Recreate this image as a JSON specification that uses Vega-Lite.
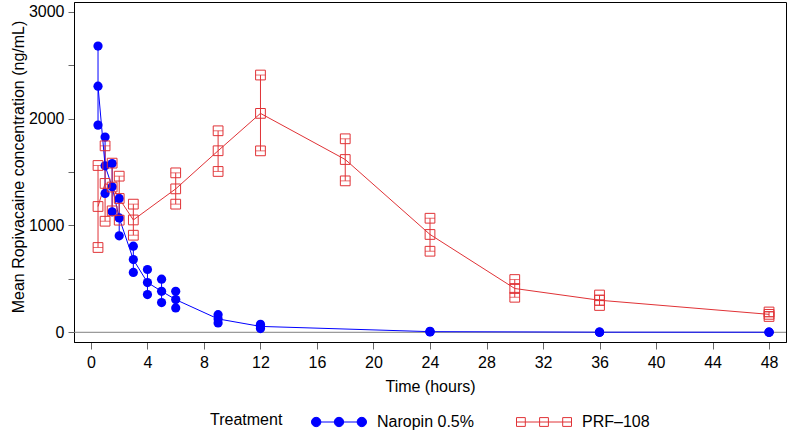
{
  "$schema": "https://vega.github.io/schema/vega-lite/v6.json",
  "width": 712,
  "height": 340,
  "autosize": {"type": "none"},
  "padding": {"left": 74, "top": 2, "right": 3, "bottom": 91},
  "background": "white",
  "config": {
    "font": "Liberation Sans",
    "view": {"stroke": "black", "strokeWidth": 1},
    "axis": {
      "grid": false,
      "labelFontSize": 16,
      "titleFontSize": 16,
      "titleFontWeight": "normal",
      "labelColor": "black",
      "titleColor": "black",
      "domainColor": "black",
      "tickColor": "#666666",
      "labelFont": "Liberation Sans",
      "titleFont": "Liberation Sans"
    },
    "axisX": {"tickSize": 7, "labelPadding": 5, "titlePadding": 8},
    "axisY": {"tickSize": 6, "labelPadding": 4, "titlePadding": 2},
    "legend": {
      "orient": "none",
      "legendX": 136,
      "legendY": 392,
      "direction": "horizontal",
      "titleOrient": "left",
      "titleAnchor": "middle",
      "titleBaseline": "top",
      "titleFontSize": 16,
      "titleFontWeight": "normal",
      "titleColor": "black",
      "titlePadding": 28,
      "labelFontSize": 16,
      "labelColor": "black",
      "labelOffset": 10,
      "columnPadding": 40,
      "symbolSize": 3025,
      "symbolStrokeWidth": 1
    }
  },
  "data": {
    "values": [
      {"t": 0.5, "group": "Naropin 0.5%", "mean": 2305, "lo": 1940, "hi": 2680},
      {"t": 1, "group": "Naropin 0.5%", "mean": 1559, "lo": 1300, "hi": 1828},
      {"t": 1.5, "group": "Naropin 0.5%", "mean": 1362, "lo": 1128, "hi": 1580},
      {"t": 2, "group": "Naropin 0.5%", "mean": 1071, "lo": 903, "hi": 1253},
      {"t": 3, "group": "Naropin 0.5%", "mean": 681, "lo": 560, "hi": 806},
      {"t": 4, "group": "Naropin 0.5%", "mean": 466, "lo": 353, "hi": 588},
      {"t": 5, "group": "Naropin 0.5%", "mean": 384, "lo": 278, "hi": 497},
      {"t": 6, "group": "Naropin 0.5%", "mean": 306, "lo": 228, "hi": 384},
      {"t": 9, "group": "Naropin 0.5%", "mean": 125, "lo": 88, "hi": 165},
      {"t": 12, "group": "Naropin 0.5%", "mean": 55, "lo": 35, "hi": 75},
      {"t": 24, "group": "Naropin 0.5%", "mean": 6, "lo": 3, "hi": 9},
      {"t": 36, "group": "Naropin 0.5%", "mean": 1, "lo": 0, "hi": 2},
      {"t": 48, "group": "Naropin 0.5%", "mean": 0.5, "lo": 0, "hi": 1},
      {"t": 0.5, "group": "PRF–108", "mean": 1178, "lo": 794, "hi": 1562},
      {"t": 1, "group": "PRF–108", "mean": 1394, "lo": 1040, "hi": 1746},
      {"t": 1.5, "group": "PRF–108", "mean": 1360, "lo": 1137, "hi": 1584},
      {"t": 2, "group": "PRF–108", "mean": 1253, "lo": 1050, "hi": 1462},
      {"t": 3, "group": "PRF–108", "mean": 1052, "lo": 909, "hi": 1200},
      {"t": 6, "group": "PRF–108", "mean": 1343, "lo": 1200, "hi": 1493},
      {"t": 9, "group": "PRF–108", "mean": 1700, "lo": 1506, "hi": 1887},
      {"t": 12, "group": "PRF–108", "mean": 2050, "lo": 1699, "hi": 2409},
      {"t": 18, "group": "PRF–108", "mean": 1618, "lo": 1418, "hi": 1812},
      {"t": 24, "group": "PRF–108", "mean": 916, "lo": 759, "hi": 1068},
      {"t": 30, "group": "PRF–108", "mean": 410, "lo": 328, "hi": 494},
      {"t": 36, "group": "PRF–108", "mean": 300, "lo": 251, "hi": 349},
      {"t": 48, "group": "PRF–108", "mean": 168, "lo": 148, "hi": 190}
    ]
  },
  "layer": [
    {
      "data": {"values": [{}]},
      "mark": {"type": "rule", "color": "#808080", "strokeWidth": 1},
      "encoding": {"y": {"datum": 0, "type": "quantitative"}}
    },
    {
      "mark": {"type": "rule", "strokeWidth": 1},
      "encoding": {
        "x": {"field": "t", "type": "quantitative", "title": "Time (hours)", "scale": {"domain": [-1.2, 49.2], "nice": false, "zero": false}, "axis": {"values": [0, 4, 8, 12, 16, 20, 24, 28, 32, 36, 40, 44, 48]}},
        "y": {"field": "lo", "type": "quantitative", "title": "Mean Ropivacaine concentration (ng/mL)", "scale": {"domain": [-91, 3093], "nice": false, "zero": false}, "axis": {"values": [0, 500, 1000, 1500, 2000, 2500, 3000], "format": "d", "labelExpr": "datum.value % 1000 === 0 ? datum.label : ''", "titleY": 164.5}},
        "y2": {"field": "hi"},
        "color": {"field": "group", "type": "nominal", "title": "Treatment", "scale": {"domain": ["Naropin 0.5%", "PRF–108"], "range": ["#0000FF", "#E03236"]}}
      }
    },
    {
      "transform": [{"filter": "datum.group === 'PRF–108'"}, {"fold": ["lo", "hi"], "as": ["k", "v"]}],
      "mark": {"type": "tick", "orient": "horizontal", "size": 10, "thickness": 1},
      "encoding": {
        "x": {"field": "t", "type": "quantitative", "title": "Time (hours)"},
        "y": {"field": "v", "type": "quantitative", "title": "Mean Ropivacaine concentration (ng/mL)"},
        "color": {"field": "group", "type": "nominal", "title": "Treatment"}
      }
    },
    {
      "mark": {"type": "line", "strokeWidth": 1},
      "encoding": {
        "x": {"field": "t", "type": "quantitative", "title": "Time (hours)"},
        "y": {"field": "mean", "type": "quantitative", "title": "Mean Ropivacaine concentration (ng/mL)"},
        "color": {
          "field": "group",
          "type": "nominal",
          "title": "Treatment",
          "legend": {
            "title": "Treatment",
            "encode": {
              "symbols": {
                "update": {
                  "shape": {"signal": "datum.value === 'Naropin 0.5%' ? 'M-0.85,0L0.85,0M-1,0a0.17,0.17 0 1,0 0.34,0a0.17,0.17 0 1,0 -0.34,0ZM-0.17,0a0.17,0.17 0 1,0 0.34,0a0.17,0.17 0 1,0 -0.34,0ZM0.66,0a0.17,0.17 0 1,0 0.34,0a0.17,0.17 0 1,0 -0.34,0Z' : 'M-1,0L1,0M-1,-0.16H-0.68V0.16H-1ZM-0.16,-0.16H0.16V0.16H-0.16ZM0.68,-0.16H1V0.16H0.68Z'"},
                  "fill": {"signal": "datum.value === 'Naropin 0.5%' ? '#0000FF' : '#FFFFFF'"},
                  "fillOpacity": {"signal": "datum.value === 'Naropin 0.5%' ? 1 : 0"},
                  "stroke": {"signal": "datum.value === 'Naropin 0.5%' ? '#0000FF' : '#E03236'"},
                  "strokeOpacity": {"value": 1},
                  "strokeWidth": {"value": 1},
                  "opacity": {"value": 1},
                  "size": {"value": 3025}
                }
              }
            }
          }
        }
      }
    },
    {
      "transform": [{"filter": "datum.group === 'Naropin 0.5%'"}, {"fold": ["lo", "mean", "hi"], "as": ["k", "v"]}],
      "mark": {"type": "point", "shape": "circle", "filled": true, "size": 85, "opacity": 1},
      "encoding": {
        "x": {"field": "t", "type": "quantitative", "title": "Time (hours)"},
        "y": {"field": "v", "type": "quantitative", "title": "Mean Ropivacaine concentration (ng/mL)"},
        "color": {"field": "group", "type": "nominal", "title": "Treatment"}
      }
    },
    {
      "transform": [{"filter": "datum.group === 'PRF–108'"}, {"fold": ["lo", "mean", "hi"], "as": ["k", "v"]}],
      "mark": {"type": "point", "shape": "square", "filled": false, "size": 95, "strokeWidth": 1, "opacity": 1},
      "encoding": {
        "x": {"field": "t", "type": "quantitative", "title": "Time (hours)"},
        "y": {"field": "v", "type": "quantitative", "title": "Mean Ropivacaine concentration (ng/mL)"},
        "color": {"field": "group", "type": "nominal", "title": "Treatment"}
      }
    }
  ]
}
